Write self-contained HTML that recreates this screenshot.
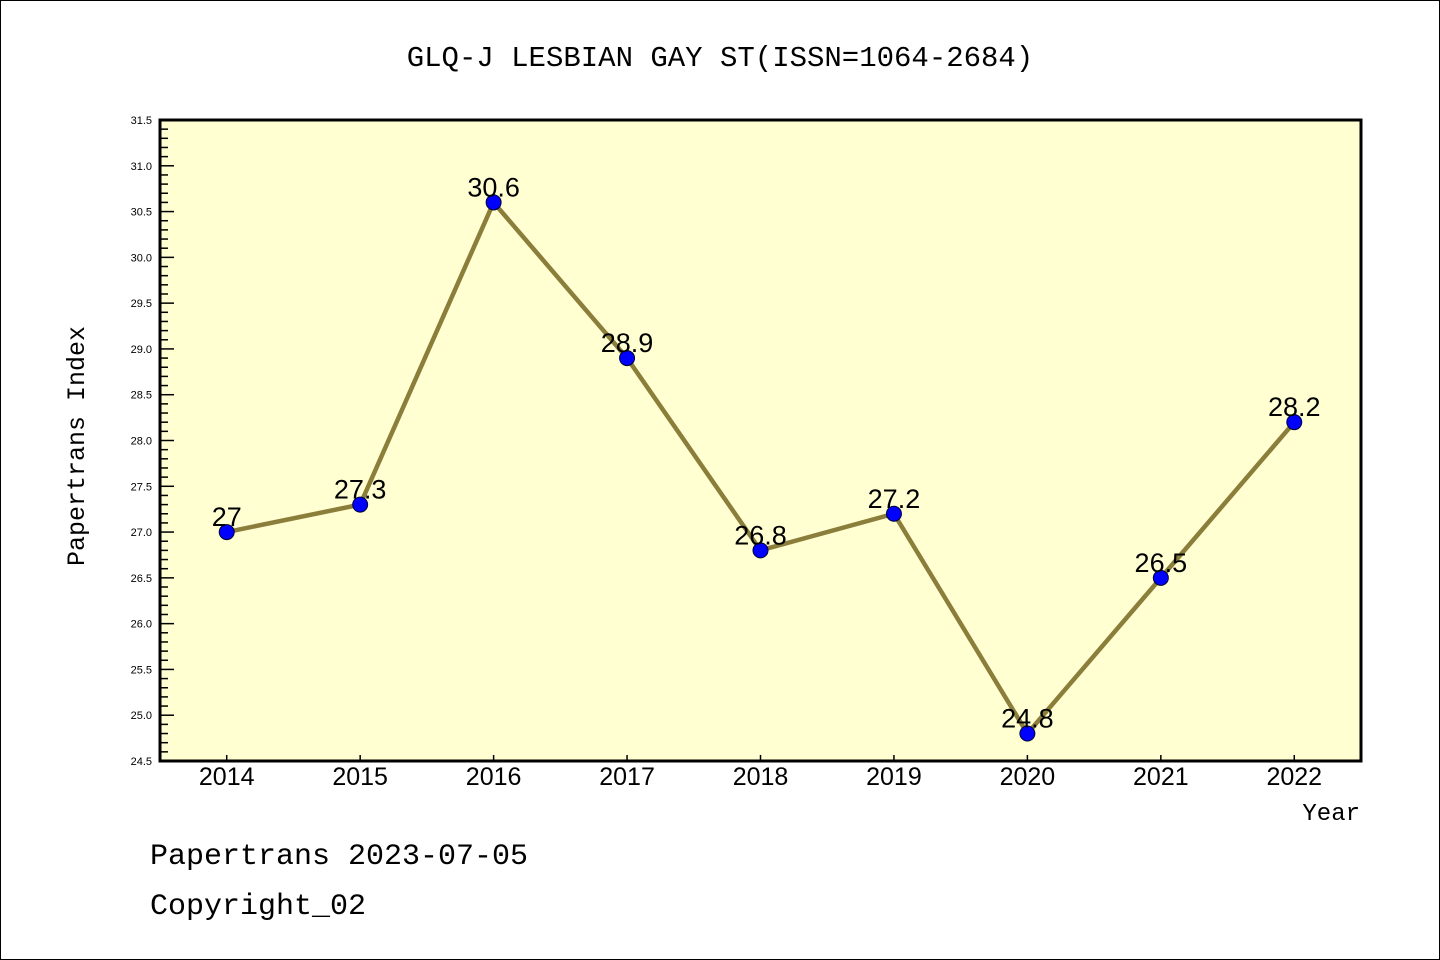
<!DOCTYPE html>
<html><head><meta charset="utf-8"><style>
body{margin:0;background:#fff}
svg{display:block}
</style></head><body>
<svg id="chart" width="1440" height="960" viewBox="0 0 1440 960" xmlns="http://www.w3.org/2000/svg">
<rect x="0.5" y="0.5" width="1439" height="959" fill="#fff" stroke="#000" stroke-width="1"/>
<text x="720" y="66" text-anchor="middle" font-family="Liberation Mono, monospace" font-size="29" fill="#000">GLQ-J LESBIAN GAY ST(ISSN=1064-2684)</text>
<rect x="160" y="120" width="1201" height="641" fill="#ffffd2"/>
<g id="yaxis"></g>
<g id="xaxis"></g>
<g id="series"></g>
<rect x="160" y="120" width="1201" height="641" fill="none" stroke="#000" stroke-width="3"/>
<text transform="translate(84,446) rotate(-90)" text-anchor="middle" font-family="Liberation Mono, monospace" font-size="25" fill="#000">Papertrans Index</text>
<text x="1360" y="820" text-anchor="end" font-family="Liberation Mono, monospace" font-size="24" fill="#000">Year</text>
<text x="150" y="864" font-family="Liberation Mono, monospace" font-size="30" fill="#000">Papertrans 2023-07-05</text>
<text x="150" y="914" font-family="Liberation Mono, monospace" font-size="30" fill="#000">Copyright_02</text>
</svg>
<script>
const categories = [2014, 2015, 2016, 2017, 2018, 2019, 2020, 2021, 2022];
const values = [27, 27.3, 30.6, 28.9, 26.8, 27.2, 24.8, 26.5, 28.2];
const valueLabels = ["27", "27.3", "30.6", "28.9", "26.8", "27.2", "24.8", "26.5", "28.2"];
const yTickLabels = ["24.5","25.0","25.5","26.0","26.5","27.0","27.5","28.0","28.5","29.0","29.5","30.0","30.5","31.0","31.5"];

const NS = "http://www.w3.org/2000/svg";
const L = 160, R = 1361, T = 120, B = 761;
const yMin = 24.5, yMax = 31.5, xMin = 2013.5, xMax = 2022.5;
const sy = v => B - (v - yMin) / (yMax - yMin) * (B - T);
const sx = v => L + (v - xMin) / (xMax - xMin) * (R - L);
function mk(tag, attrs, parent) {
  const e = document.createElementNS(NS, tag);
  for (const k in attrs) e.setAttribute(k, attrs[k]);
  parent.appendChild(e);
  return e;
}
const yaxis = document.getElementById('yaxis');
for (let i = 0; i <= 70; i++) {
  const v = yMin + i * 0.1, y = sy(v);
  const major = i % 5 === 0;
  const t = mk('line', {x1: L, x2: L + (major ? 14 : 8), y1: y, y2: y, stroke: '#000', 'stroke-width': 1.5}, yaxis);
  
  
}
yTickLabels.forEach(s => {
  const y = sy(parseFloat(s));
  const t = mk('text', {x: 152, y: y + 4, 'text-anchor': 'end', 'font-family': 'Liberation Sans, sans-serif', 'font-size': 11, fill: '#000'}, yaxis);
  t.textContent = s;
  
  
});
const xaxis = document.getElementById('xaxis');
categories.forEach(c => {
  const x = sx(c);
  const tk = mk('line', {x1: x, x2: x, y1: B, y2: B - 6, stroke: '#000', 'stroke-width': 1.5}, xaxis);
  
  
  const t = mk('text', {x: x, y: 785, 'text-anchor': 'middle', 'font-family': 'Liberation Sans, sans-serif', 'font-size': 25, fill: '#000'}, xaxis);
  t.textContent = c;
  
  
});
const series = document.getElementById('series');
const pts = categories.map((c, i) => sx(c) + ',' + sy(values[i])).join(' ');
const line = mk('polyline', {points: pts, fill: 'none', stroke: '#8b7d3a', 'stroke-width': 4.5, 'stroke-linejoin': 'round'}, series);


categories.forEach((c, i) => {
  const x = sx(c), y = sy(values[i]);
  const p = mk('circle', {cx: x, cy: y, r: 7.5, fill: '#0000ff', stroke: '#000033', 'stroke-width': 1}, series);
  
  
  const t = mk('text', {x: x, y: y - 6, 'text-anchor': 'middle', 'font-family': 'Liberation Sans, sans-serif', 'font-size': 27, fill: '#000'}, series);
  t.textContent = valueLabels[i];
  
  
});
</script>
</body></html>
